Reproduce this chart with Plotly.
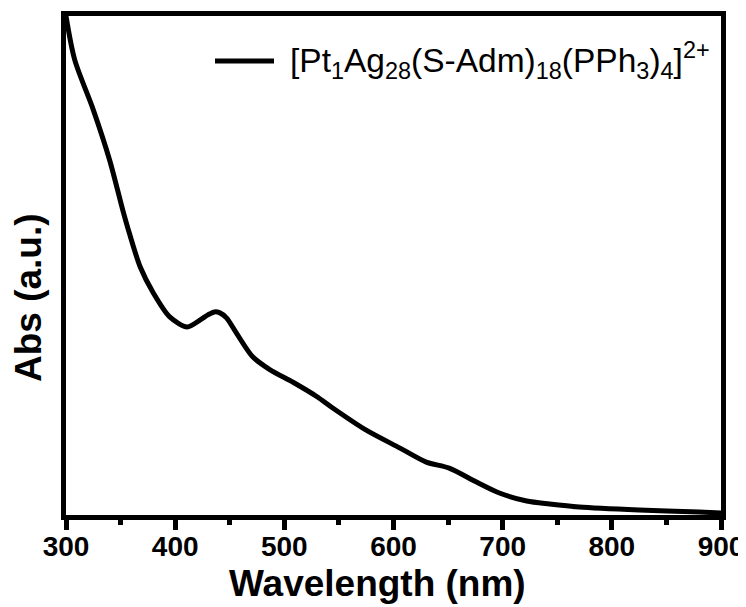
import plotly.graph_objects as go

wavelength = [300, 308, 325, 340, 352, 358, 368, 380, 395, 411, 423, 430, 436, 441, 447, 456, 471, 487,
              508, 530, 544, 575, 606, 630, 651, 676, 697, 722, 743, 770, 825, 880, 900]
absorbance = [1.000, 0.912, 0.812, 0.711, 0.611, 0.565, 0.497, 0.445, 0.397, 0.377, 0.391, 0.401, 0.407,
              0.405, 0.395, 0.365, 0.317, 0.291, 0.266, 0.237, 0.215, 0.170, 0.134, 0.106, 0.094, 0.066,
              0.044, 0.028, 0.022, 0.016, 0.010, 0.006, 0.004]
series_name = "[Pt<sub>1</sub>Ag<sub>28</sub>(S-Adm)<sub>18</sub>(PPh<sub>3</sub>)<sub>4</sub>]<sup>2+</sup>"
x_ticks = [300, 400, 500, 600, 700, 800, 900]

FONT = "Liberation Sans, Arial, sans-serif"
OFF = 8  # page body margin of the html page
W, H = 746 - OFF, 607 - OFF
L, R, T, B = 66 - OFF, 721 - OFF, 16 - OFF, 515 - OFF
PW, PH = R - L, B - T


def px(x):
    return (x - OFF - L) / PW


def py(y):
    return (B - (y - OFF)) / PH


fig = go.Figure()
fig.add_trace(go.Scatter(x=wavelength, y=absorbance, mode="lines",
                         line=dict(color="black", width=5, shape="spline", smoothing=0.8),
                         showlegend=False))

fig.update_layout(
    width=W, height=H,
    margin=dict(l=L, r=W - R, t=T, b=H - B, autoexpand=False),
    paper_bgcolor="white", plot_bgcolor="white",
    showlegend=False,
)
fig.update_xaxes(range=[300, 900], tickvals=x_ticks, ticks="outside", ticklen=10, tickwidth=5,
                 tickcolor="black", showline=True, linewidth=5, linecolor="black", mirror=True,
                 showgrid=False, zeroline=False, automargin=False, ticklabelstandoff=-8,
                 tickfont=dict(family=FONT, size=28, color="black", weight="bold"),
                 minor=dict(dtick=50, tick0=300, ticks="outside", ticklen=5, tickwidth=5, tickcolor="black"))
fig.update_yaxes(range=[0, 1], showticklabels=False, ticks="", showline=True, linewidth=5,
                 linecolor="black", mirror=True, showgrid=False, zeroline=False, automargin=False)

fig.add_annotation(text="Wavelength (nm)", xref="paper", yref="paper", x=px(377), y=py(583),
                   showarrow=False, xanchor="center", yanchor="middle",
                   font=dict(family=FONT, size=37, color="black", weight="bold"))
fig.add_annotation(text="Abs (a.u.)", xref="paper", yref="paper", x=px(28), y=py(298),
                   showarrow=False, xanchor="center", yanchor="middle", textangle=-90,
                   font=dict(family=FONT, size=37, color="black", weight="bold"))
# legend key
fig.add_shape(type="line", xref="paper", yref="paper", x0=px(215), x1=px(274), y0=py(61), y1=py(61),
              line=dict(color="black", width=5))
fig.add_annotation(text=series_name, xref="paper", yref="paper", x=px(288), y=py(61),
                   showarrow=False, xanchor="left", yanchor="middle",
                   font=dict(family=FONT, size=33.5, color="black"))

fig.write_html("out.html")
